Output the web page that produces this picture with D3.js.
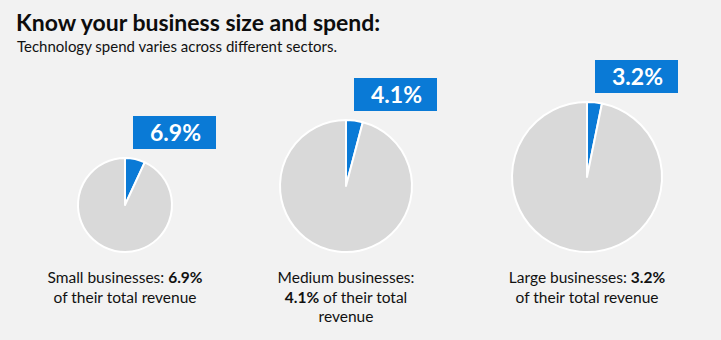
<!DOCTYPE html>
<html>
<head>
<meta charset="utf-8">
<script src="https://cdn.jsdelivr.net/npm/d3@7"></script>
<style>
  html, body { margin: 0; padding: 0; background: #f2f2f2; }
  svg { display: block; font-family: Lato, "Open Sans", sans-serif; }
</style>
</head>
<body>
<div id="chart"></div>
<script>
// chart values
var title = "Know your business size and spend:";
var subtitle = "Technology spend varies across different sectors.";
var categories = ["Small businesses", "Medium businesses", "Large businesses"];
var shares = [6.9, 4.1, 3.2];
// caption lines, each an array of [text, bold]
var captions = [
  [[["Small businesses: ", false], ["6.9%", true]], [["of their total revenue", false]]],
  [[["Medium businesses:", false]], [["4.1%", true], [" of their total", false]], [["revenue", false]]],
  [[["Large businesses: ", false], ["3.2%", true]], [["of their total revenue", false]]]
];

var width = 721, height = 340;
var blue = "#0a7ad6", grey = "#d9d9d9";

var svg = d3.select("#chart").append("svg")
  .attr("width", width)
  .attr("height", height);

svg.append("rect").attr("width", width).attr("height", height).attr("fill", "#f2f2f2");

svg.append("text")
  .attr("x", 16).attr("y", 31)
  .attr("font-size", 23).attr("font-weight", 700).attr("fill", "#0d0d0d")
  .text(title);

svg.append("text")
  .attr("x", 17).attr("y", 52)
  .attr("font-size", 15).attr("fill", "#111")
  .text(subtitle);

// layout: centre and radius of each pie (pies sit on a common baseline)
var xPos = d3.scaleOrdinal().domain(categories).range([125, 346, 587]);
var rSize = d3.scaleOrdinal().domain(categories).range([47, 66, 75]);
var baseY = 252;

var pie = d3.pie().sort(null).value(function(d) { return d; });

var groups = svg.selectAll(".biz")
  .data(categories.map(function(c, i) { return { name: c, share: shares[i], caption: captions[i] }; }))
  .enter().append("g")
  .attr("class", "biz")
  .attr("transform", function(d) {
    return "translate(" + xPos(d.name) + "," + (baseY - rSize(d.name)) + ")";
  });

groups.each(function(d) {
  var g = d3.select(this);
  var r = rSize(d.name);
  var arc = d3.arc().innerRadius(0).outerRadius(r);

  g.selectAll("path")
    .data(pie([d.share, 100 - d.share]))
    .enter().append("path")
    .attr("d", arc)
    .attr("fill", function(p, i) { return i === 0 ? blue : grey; })
    .attr("stroke", "#fff")
    .attr("stroke-width", 2)
    .attr("stroke-linejoin", "round");

  // callout box
  var boxW = 83, boxH = 33;
  var bx = 8, by = -r - 42;
  g.append("rect")
    .attr("x", bx).attr("y", by)
    .attr("width", boxW).attr("height", boxH)
    .attr("fill", blue);
  g.append("text")
    .attr("x", bx + boxW / 2 + 1).attr("y", by + boxH / 2 + 8)
    .attr("text-anchor", "middle")
    .attr("font-size", 23).attr("font-weight", 700).attr("fill", "#fff")
    .text(d3.format(".1f")(d.share) + "%");

  // caption
  var cap = g.append("text")
    .attr("text-anchor", "middle")
    .attr("font-size", 15.5).attr("fill", "#111");
  d.caption.forEach(function(line, li) {
    var first = true;
    line.forEach(function(part) {
      var t = cap.append("tspan").text(part[0]);
      if (part[1]) t.attr("font-weight", 700);
      if (first) {
        t.attr("x", 0).attr("y", r + 31 + li * 19.5);
        first = false;
      }
    });
  });
});
</script>
</body>
</html>
